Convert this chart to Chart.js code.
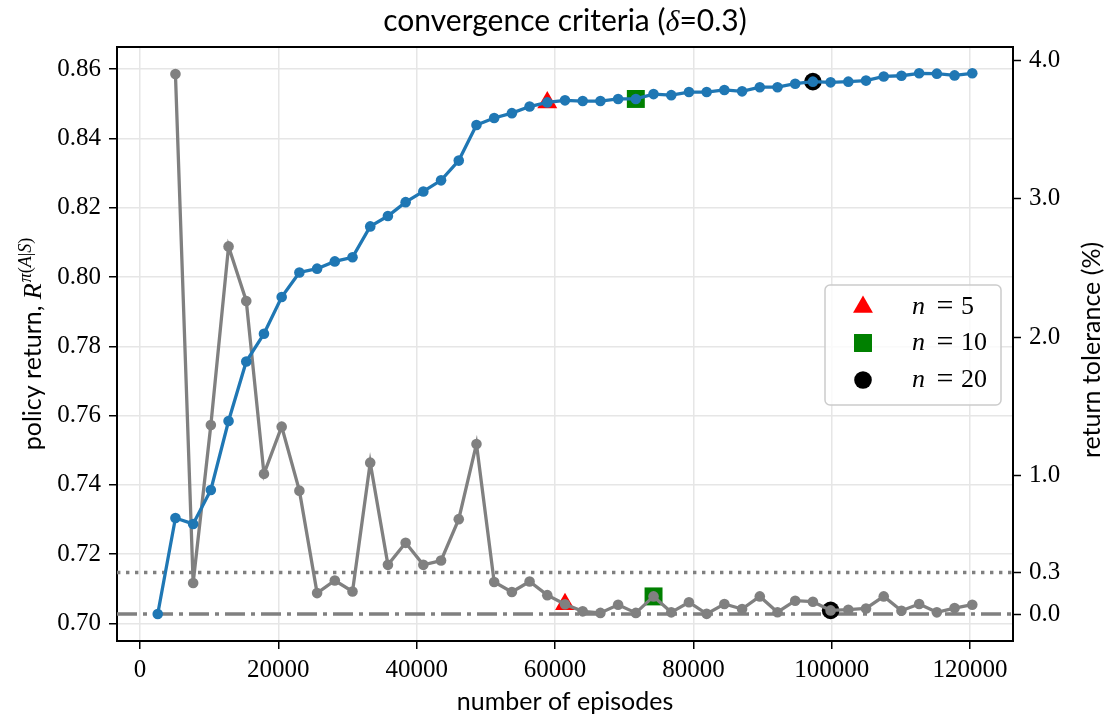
<!DOCTYPE html>
<html>
<head>
<meta charset="utf-8">
<script src="https://cdn.jsdelivr.net/npm/chart.js@4.4.0/dist/chart.umd.min.js"></script>
<style>
  html, body { margin: 0; padding: 0; background: #fff; }
  #wrap { width: 1112px; height: 719px; }
</style>
</head>
<body>
<div id="wrap"><canvas id="chart" width="1112" height="719"></canvas></div>
<script>
const SERIF = '"Liberation Serif", "DejaVu Serif", serif';
const SANS = 'Lato, "Open Sans", sans-serif';

// data
const episodes = [2560, 5120, 7680, 10240, 12800, 15360, 17920, 20480, 23040, 25600,
  28160, 30720, 33280, 35840, 38400, 40960, 43520, 46080, 48640, 51200,
  53760, 56320, 58880, 61440, 64000, 66560, 69120, 71680, 74240, 76800,
  79360, 81920, 84480, 87040, 89600, 92160, 94720, 97280, 99840, 102400,
  104960, 107520, 110080, 112640, 115200, 117760, 120320];

const policyReturn = [0.7027, 0.7304, 0.7287, 0.7385, 0.7584, 0.7756, 0.7836, 0.7942, 0.8013, 0.8024,
  0.8045, 0.8057, 0.8146, 0.8176, 0.8216, 0.8247, 0.8279, 0.8336, 0.8439, 0.8459,
  0.8473, 0.8492, 0.8504, 0.8510, 0.8508, 0.8508, 0.8514, 0.8514, 0.8528, 0.8525,
  0.8534, 0.8534, 0.8540, 0.8536, 0.8548, 0.8548, 0.8558, 0.8564, 0.8562, 0.8564,
  0.8567, 0.8579, 0.8581, 0.8588, 0.8587, 0.8582, 0.8588];

// tolerance starts at the second checkpoint
const toleranceEpisodes = episodes.slice(1);
const returnTolerance = [3.900, 0.224, 1.365, 2.655, 2.261, 1.012, 1.353, 0.891, 0.151, 0.242,
  0.163, 1.093, 0.355, 0.514, 0.355, 0.386, 0.685, 1.228, 0.231, 0.159,
  0.235, 0.136, 0.070, 0.019, 0.008, 0.067, 0.008, 0.127, 0.012, 0.085,
  0.001, 0.072, 0.036, 0.127, 0.013, 0.096, 0.089, 0.026, 0.031, 0.040,
  0.127, 0.024, 0.072, 0.012, 0.043, 0.067];

const delta = 0.3;
const nValues = [5, 10, 20];
const returnConvergedAt = [58880, 71680, 97280];
const toleranceConvergedAt = [61440, 74240, 99840];

const xTicks = [0, 20000, 40000, 60000, 80000, 100000, 120000];
const returnTicks = [0.70, 0.72, 0.74, 0.76, 0.78, 0.80, 0.82, 0.84, 0.86];
const toleranceTicks = [0.0, 0.3, 1.0, 2.0, 3.0, 4.0];

const markerStyle = ['triangle', 'rect', 'circle'];
const markerColor = ['#ff0000', '#008000', '#000000'];
const markerRadius = [11.5, 12.7, 8.8];

const BLUE = '#1f77b4';
const GRAY = '#808080';

const datasets = [
  {
    data: episodes.map((x, i) => ({ x, y: policyReturn[i] })),
    yAxisID: 'y',
    borderColor: BLUE, backgroundColor: BLUE,
    borderWidth: 3.3, pointRadius: 5.3, pointHoverRadius: 5.3, pointBorderWidth: 0
  },
  {
    data: toleranceEpisodes.map((x, i) => ({ x, y: returnTolerance[i] })),
    yAxisID: 'y2',
    borderColor: GRAY, backgroundColor: GRAY,
    borderWidth: 3.3, pointRadius: 5.3, pointHoverRadius: 5.3, pointBorderWidth: 0
  }
];

nValues.forEach((n, j) => {
  const common = {
    showLine: false, pointStyle: markerStyle[j],
    pointRadius: markerRadius[j], pointHoverRadius: markerRadius[j],
    pointBorderWidth: 0, backgroundColor: markerColor[j], borderColor: markerColor[j]
  };
  const a = returnConvergedAt[j];
  datasets.push({ ...common, yAxisID: 'y', data: [{ x: a, y: policyReturn[episodes.indexOf(a)] }] });
  const b = toleranceConvergedAt[j];
  datasets.push({ ...common, yAxisID: 'y2', data: [{ x: b, y: returnTolerance[toleranceEpisodes.indexOf(b)] }] });
});

function drawRich(ctx, parts, cx, cy, rot) {
  ctx.save();
  ctx.translate(cx, cy);
  ctx.rotate(rot);
  let total = 0;
  parts.forEach(p => { ctx.font = p.font; p.w = ctx.measureText(p.t).width; total += p.w + (p.gap || 0); });
  let x = -total / 2;
  ctx.textAlign = 'left';
  ctx.textBaseline = 'alphabetic';
  ctx.fillStyle = '#000';
  parts.forEach(p => { ctx.font = p.font; ctx.fillText(p.t, x, p.dy || 0); x += p.w + (p.gap || 0); });
  ctx.restore();
}

const decor = {
  id: 'decor',
  beforeDatasetsDraw(chart) {
    const { ctx, chartArea: a } = chart;
    const y2 = chart.scales.y2;
    ctx.save();
    ctx.beginPath();
    ctx.rect(a.left, a.top, a.right - a.left, a.bottom - a.top);
    ctx.clip();
    ctx.strokeStyle = GRAY;
    // dotted tolerance threshold
    ctx.lineWidth = 3.4;
    ctx.setLineDash([3.4, 5.6]);
    let py = y2.getPixelForValue(delta);
    ctx.beginPath(); ctx.moveTo(a.left, py); ctx.lineTo(a.right, py); ctx.stroke();
    // dash-dot zero line
    ctx.lineWidth = 3.4;
    ctx.setLineDash([20, 6, 4, 6]);
    py = y2.getPixelForValue(0);
    ctx.beginPath(); ctx.moveTo(a.left, py); ctx.lineTo(a.right, py); ctx.stroke();
    ctx.restore();
  },
  afterDraw(chart) {
    const { ctx, chartArea: a } = chart;
    ctx.save();
    // top frame edge
    ctx.strokeStyle = '#000';
    ctx.lineWidth = 2;
    ctx.beginPath(); ctx.moveTo(a.left - 1, a.top); ctx.lineTo(a.right + 1, a.top); ctx.stroke();
    ctx.restore();

    const cx = (a.left + a.right) / 2;
    const cy = (a.top + a.bottom) / 2;

    // title
    drawRich(ctx, [
      { t: 'convergence criteria (', font: '30px ' + SANS },
      { t: 'δ', font: 'italic 30px ' + SERIF },
      { t: '=0.3)', font: '30px ' + SANS }
    ], cx, 31, 0);

    // x label
    drawRich(ctx, [{ t: 'number of episodes', font: '25px ' + SANS }], cx, 710, 0);

    // left label
    drawRich(ctx, [
      { t: 'policy return, ', font: '25px ' + SANS },
      { t: 'R', font: 'italic 26px ' + SERIF, gap: 1 },
      { t: 'π', font: 'italic 18px ' + SERIF, dy: -10 },
      { t: '(', font: '18px ' + SERIF, dy: -10 },
      { t: 'A', font: 'italic 18px ' + SERIF, dy: -10 },
      { t: '|', font: '18px ' + SERIF, dy: -10 },
      { t: 'S', font: 'italic 18px ' + SERIF, dy: -10 },
      { t: ')', font: '18px ' + SERIF, dy: -10 }
    ], 41, cy, -Math.PI / 2);

    // right label
    drawRich(ctx, [{ t: 'return tolerance (%)', font: '25px ' + SANS }], 1100, cy + 6, -Math.PI / 2);

    // legend
    ctx.save();
    ctx.beginPath();
    ctx.roundRect(825, 285, 176, 120, 5);
    ctx.fillStyle = 'rgba(255,255,255,0.8)';
    ctx.fill();
    ctx.strokeStyle = '#cccccc';
    ctx.lineWidth = 1.5;
    ctx.stroke();
    const rows = [307, 343, 380];
    nValues.forEach((n, j) => {
      ctx.fillStyle = markerColor[j];
      Chart.helpers.drawPoint(ctx, {
        pointStyle: markerStyle[j], radius: markerRadius[j], rotation: 0, borderWidth: 0
      }, 863, rows[j]);
      ctx.fillStyle = '#000';
      ctx.textBaseline = 'middle';
      ctx.font = 'italic 26px ' + SERIF;
      ctx.textAlign = 'left';
      ctx.fillText('n', 912, rows[j]);
      ctx.font = '30px ' + SERIF;
      ctx.textAlign = 'center';
      ctx.fillText('=', 945, rows[j]);
      ctx.font = '26px ' + SERIF;
      ctx.textAlign = 'left';
      ctx.fillText(String(n), 961, rows[j]);
    });
    ctx.restore();
  }
};

const tickFont = { family: SERIF, size: 25 };

new Chart(document.getElementById('chart'), {
  type: 'line',
  data: { datasets },
  options: {
    responsive: false,
    animation: false,
    devicePixelRatio: 1,
    layout: { padding: { top: 47, left: 0, right: 0, bottom: 0 } },
    plugins: { legend: { display: false }, tooltip: { enabled: false }, title: { display: false } },
    elements: { line: { tension: 0 } },
    scales: {
      x: {
        type: 'linear',
        min: -3328, max: 126208,
        afterBuildTicks: s => { s.ticks = xTicks.map(v => ({ value: v })); },
        afterFit: s => { s.height = 78; },
        ticks: { font: tickFont, color: '#000', padding: 6, maxRotation: 0, autoSkip: false,
          callback: v => String(v) },
        grid: { color: '#e6e6e6', lineWidth: 1.5, tickColor: '#000', tickLength: 8, tickWidth: 1.5 },
        border: { display: true, color: '#000', width: 2 }
      },
      y: {
        type: 'linear', position: 'left',
        min: 0.6949, max: 0.8664,
        afterBuildTicks: s => { s.ticks = returnTicks.map(v => ({ value: v })); },
        afterFit: s => { s.width = 117; },
        ticks: { font: tickFont, color: '#000', padding: 8, autoSkip: false,
          callback: v => v.toFixed(2) },
        grid: { color: '#e6e6e6', lineWidth: 1.5, tickColor: '#000', tickLength: 8, tickWidth: 1.5 },
        border: { display: true, color: '#000', width: 2 }
      },
      y2: {
        type: 'linear', position: 'right',
        min: -0.195, max: 4.095,
        afterBuildTicks: s => { s.ticks = toleranceTicks.map(v => ({ value: v })); },
        afterFit: s => { s.width = 99; },
        ticks: { font: tickFont, color: '#000', padding: 8, autoSkip: false,
          callback: v => v.toFixed(1) },
        grid: { drawOnChartArea: false, tickColor: '#000', tickLength: 8, tickWidth: 1.5 },
        border: { display: true, color: '#000', width: 2 }
      }
    }
  },
  plugins: [decor]
});
</script>
</body>
</html>
